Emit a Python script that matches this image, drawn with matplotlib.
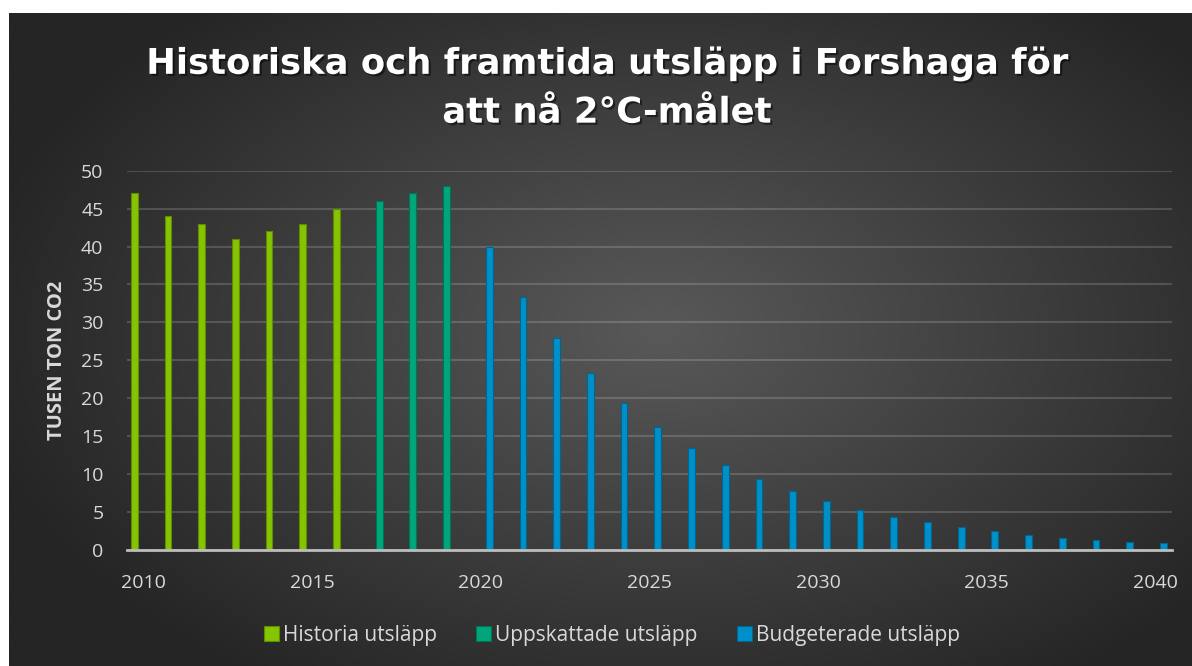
import matplotlib
matplotlib.use("Agg")
import matplotlib.pyplot as plt
import matplotlib.patheffects as pe
import numpy as np

# data (tusen ton CO2)
historia_years = [2010, 2011, 2012, 2013, 2014, 2015, 2016]
historia = [47, 44, 43, 41, 42, 43, 45]
uppskattade_years = [2017, 2018, 2019]
uppskattade = [46, 47, 48]
budget_years = list(range(2020, 2041))
budget = [40, 33.4, 27.9, 23.3, 19.4, 16.2, 13.5, 11.2, 9.4, 7.8, 6.4,
          5.3, 4.4, 3.7, 3.0, 2.5, 2.0, 1.6, 1.35, 1.1, 0.9]
tick_years = [2010, 2015, 2020, 2025, 2030, 2035, 2040]

title = "Historiska och framtida utsläpp i Forshaga för\natt nå 2°C-målet"
ylabel = "TUSEN TON CO2"
labels = ["Historia utsläpp", "Uppskattade utsläpp", "Budgeterade utsläpp"]
colors = ["#86c300", "#00a67b", "#0090c9"]
edges = ["#5f8c00", "#007555", "#006690"]

plt.rcParams['font.family'] = ['Open Sans', 'DejaVu Sans']

W, H = 1192, 666
fig = plt.figure(figsize=(W / 100, H / 100), dpi=100)
fig.patch.set_facecolor("white")

# radial dark background
bg = fig.add_axes([9 / W, 0, 1 - 9 / W, 1 - 13 / H])
bg.set_axis_off()
gx, gy = np.meshgrid(np.linspace(9, W, 400), np.linspace(13, H, 250))
d = np.sqrt(((gx - 660) / 700) ** 2 + ((gy - 330) / 430) ** 2)
d = np.clip(d, 0, 1)
c_in, c_out = 0x59, 0x25
grey = (c_in + (c_out - c_in) * d) / 255
img = np.dstack([grey, grey, grey])
bg.imshow(img, aspect="auto", extent=[0, 1, 0, 1], interpolation="bilinear")
bg.set_xlim(0, 1)
bg.set_ylim(0, 1)

# plot area
left, right = 127 / W, 1172 / W
bottom, top = 1 - 550 / H, 1 - 170.7 / H
ax = fig.add_axes([left, bottom, right - left, top - bottom])
ax.set_facecolor("none")

step = 0.265
width = 0.2
offsets = [-step - 0.02, -0.02, step - 0.02]
series = [(historia_years, historia), (uppskattade_years, uppskattade),
          (budget_years, budget)]
for (yrs, vals), off, c, ec, lab in zip(series, offsets, colors, edges, labels):
    xs = np.array(yrs) - 2010 + off
    ax.bar(xs, vals, width=width, color=c, edgecolor=ec, linewidth=0.8,
           label=lab, zorder=3)

ax.set_xlim(-0.5, 30.5)
ax.set_ylim(0, 50)
ax.set_yticks(np.arange(0, 51, 5))
ax.set_xticks([y - 2010 for y in tick_years])
ax.set_xticklabels([str(y) for y in tick_years])
ax.tick_params(axis="y", length=0, pad=17, labelsize=14, labelcolor="#d9d9d9")
ax.tick_params(axis="x", length=0, pad=17, labelsize=14, labelcolor="#d9d9d9")
ax.grid(axis="y", color="#ffffff", alpha=0.16, linewidth=1.5, zorder=0)
ax.set_axisbelow(True)
for s in ["top", "right", "left"]:
    ax.spines[s].set_visible(False)
ax.spines["bottom"].set_color("#bdbdbd")
ax.spines["bottom"].set_linewidth(2)
ax.spines["bottom"].set_zorder(4)

fig.text(57 / W, 1 - 360 / H, ylabel, rotation=90, ha="center", va="center",
         fontsize=14.5, fontweight="bold", color="#d9d9d9")

t = fig.text(607 / W, 1 - 88 / H, title, ha="center", va="center",
             fontsize=25.5, fontweight="bold", color="white",
             family=["DejaVu Sans"], linespacing=1.55,
             path_effects=[pe.withSimplePatchShadow(offset=(1.5, -1.5),
                                                    shadow_rgbFace="black",
                                                    alpha=0.5)])

leg = fig.legend(loc="center", bbox_to_anchor=(612 / W, 1 - 635 / H), ncol=3,
                 frameon=False, fontsize=15, handlelength=0.7,
                 handleheight=0.7, handletextpad=0.2, columnspacing=1.9)
for txt in leg.get_texts():
    txt.set_color("#d9d9d9")

fig.savefig("out.png", dpi=100, facecolor=fig.get_facecolor())
